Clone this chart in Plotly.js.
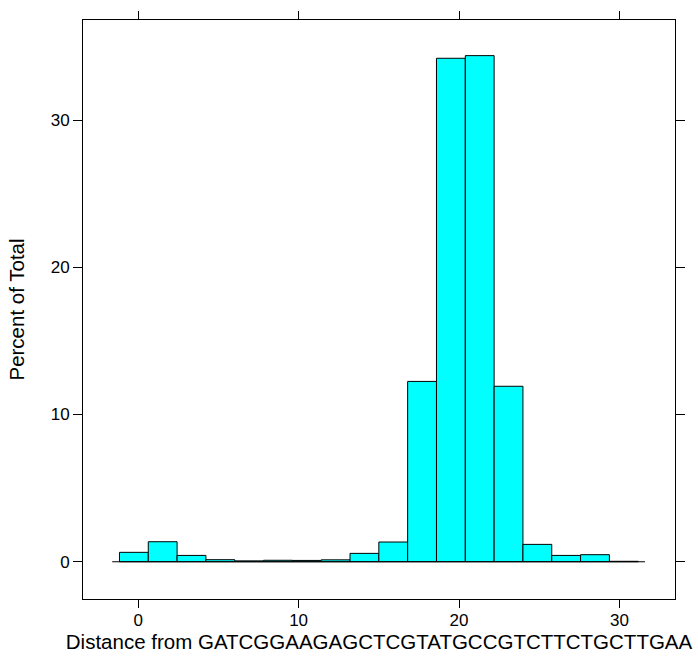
<!DOCTYPE html>
<html>
<head>
<meta charset="utf-8">
<script src="https://cdn.plot.ly/plotly-3.0.1.min.js"></script>
<style>html,body{margin:0;padding:0;background:#fff}#chart{width:698px;height:666px}</style>
</head>
<body>
<div id="chart"></div>
<script>
// Bin edges (data units) and percent of total per bin
var binEdges = [-1.167, 0.629, 2.425, 4.222, 6.018, 7.815, 9.611, 11.407, 13.204, 15.000,
                16.796, 18.593, 20.389, 22.185, 23.982, 25.778, 27.575, 29.371, 31.167];
var percents = [0.64, 1.36, 0.43, 0.14, 0.06, 0.10, 0.09, 0.13, 0.57, 1.34,
                12.25, 34.2, 34.38, 11.92, 1.18, 0.43, 0.48, 0.03];
// empty extent of the histogram on either side
var baselineExtent = [-1.62, 31.59];
var xTicks = [0, 10, 20, 30];
var yTicks = [0, 10, 20, 30];

var centers = [], widths = [];
for (var i = 0; i < percents.length; i++) {
  centers.push((binEdges[i] + binEdges[i + 1]) / 2);
  widths.push(binEdges[i + 1] - binEdges[i]);
}

var font = 'Liberation Sans, Arial, Helvetica, sans-serif';
var traces = [
  {type: 'scatter', mode: 'lines', x: baselineExtent, y: [0, 0],
   line: {color: '#000', width: 1}, hoverinfo: 'skip', showlegend: false},
  {type: 'bar', x: centers, y: percents, width: widths,
   marker: {color: '#00FFFF', line: {color: '#000', width: 1}}, showlegend: false}
];

var layout = {
  width: 698, height: 666,
  margin: {l: 83, r: 23, t: 20, b: 67, pad: 0},
  paper_bgcolor: '#fff', plot_bgcolor: '#fff',
  showlegend: false,
  bargap: 0,
  font: {family: font, color: '#000', size: 17},
  xaxis: {
    range: [-3.44, 33.46], tickvals: xTicks, ticktext: xTicks.map(String),
    ticks: 'outside', ticklen: 8, tickwidth: 1, tickcolor: '#000',
    ticklabelstandoff: -2,
    showline: true, linecolor: '#000', linewidth: 1, mirror: 'ticks',
    showgrid: false, zeroline: false,
    tickfont: {family: font, size: 17, color: '#000'},
    title: {text: 'Distance from GATCGGAAGAGCTCGTATGCCGTCTTCTGCTTGAA',
            font: {family: font, size: 20.5, color: '#000'}, standoff: 5}
  },
  yaxis: {
    range: [-2.53, 36.8], tickvals: yTicks, ticktext: yTicks.map(String),
    ticks: 'outside', ticklen: 9, tickwidth: 1, tickcolor: '#000',
    showline: true, linecolor: '#000', linewidth: 1, mirror: 'ticks',
    showgrid: false, zeroline: false,
    tickfont: {family: font, size: 17, color: '#000'},
    title: {text: 'Percent of Total',
            font: {family: font, size: 20.5, color: '#000'}, standoff: 20}
  }
};

Plotly.newPlot('chart', traces, layout, {displayModeBar: false, staticPlot: true});
</script>
</body>
</html>
